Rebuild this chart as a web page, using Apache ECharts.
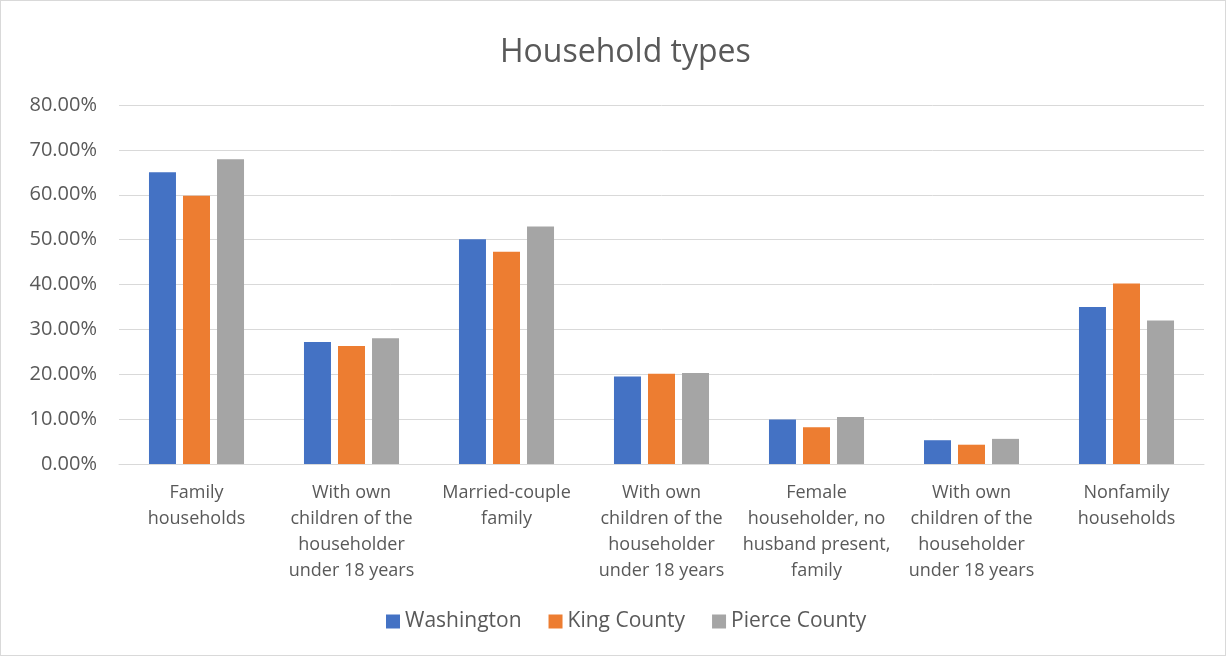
<!DOCTYPE html>
<html>
<head>
<meta charset="utf-8">
<script src="https://cdn.jsdelivr.net/npm/echarts@6/dist/echarts.min.js"></script>
<style>
html,body{margin:0;padding:0;background:#fff;}
#wrap{position:absolute;left:0;top:0;width:1224px;height:654px;border:1px solid #d9d9d9;}
#chart{width:1224px;height:654px;}
</style>
</head>
<body>
<div id="wrap"><div id="chart"></div></div>
<script>
const categories = [
  "Family\nhouseholds",
  "With own\nchildren of the\nhouseholder\nunder 18 years",
  "Married-couple\nfamily",
  "With own\nchildren of the\nhouseholder\nunder 18 years",
  "Female\nhouseholder, no\nhusband present,\nfamily",
  "With own\nchildren of the\nhouseholder\nunder 18 years",
  "Nonfamily\nhouseholds"
];
const seriesNames = ["Washington", "King County", "Pierce County"];
const washington = [65.0, 27.2, 50.1, 19.5, 9.9, 5.3, 35.0];
const kingCounty = [59.8, 26.3, 47.3, 20.1, 8.2, 4.3, 40.2];
const pierceCounty = [67.9, 28.0, 52.9, 20.3, 10.5, 5.6, 32.0];
const colors = ["#4472c4", "#ed7d31", "#a5a5a5"];

const font = "'Open Sans', 'Noto Sans', sans-serif";
const chart = echarts.init(document.getElementById('chart'));
const mk = (name, data, i) => ({
  name: name, type: 'bar', data: data, barWidth: 27, barGap: '26%',
  itemStyle: { color: colors[i] }
});
chart.setOption({
  animation: false,
  textStyle: { fontFamily: font },
  title: {
    text: 'Household types', left: 494, top: 31,
    textStyle: { fontSize: 32, fontWeight: 'normal', color: '#595959', fontFamily: font }
  },
  legend: {
    data: seriesNames, bottom: 18, left: 380, itemWidth: 14, itemHeight: 14, itemGap: 27,
    icon: 'rect',
    textStyle: { fontSize: 21, color: '#595959', fontFamily: font, padding: [0,0,0,0] }
  },
  grid: { left: 118, right: 21, top: 104, bottom: 191, containLabel: false },
  xAxis: {
    type: 'category', data: categories,
    axisLine: { lineStyle: { color: '#d9d9d9', width: 1 } },
    axisTick: { show: false },
    axisLabel: { interval: 0, fontSize: 18, color: '#595959', lineHeight: 26, margin: 16, fontFamily: font }
  },
  yAxis: {
    type: 'value', min: 0, max: 80, interval: 10,
    axisLine: { show: false }, axisTick: { show: false },
    splitLine: { lineStyle: { color: '#d9d9d9', width: 1 } },
    axisLabel: { fontSize: 20, color: '#595959', margin: 22, fontFamily: font,
      formatter: v => v.toFixed(2) + '%' }
  },
  series: [mk(seriesNames[0], washington, 0), mk(seriesNames[1], kingCounty, 1), mk(seriesNames[2], pierceCounty, 2)]
});
</script>
</body>
</html>
